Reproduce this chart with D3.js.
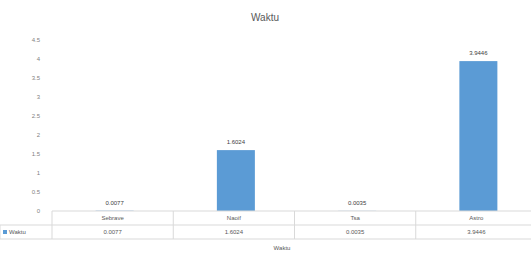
<!DOCTYPE html>
<html>
<head>
<meta charset="utf-8">
<script src="https://cdn.jsdelivr.net/npm/d3@7"></script>
<style>
  body { margin: 0; background: #fff; }
  svg { font-family: "Liberation Sans", Arial, sans-serif; }
</style>
</head>
<body>
<div id="chart"></div>
<script>
// chart data
const categories = ['Sebrave', 'Naoif', 'Tsa', 'Astro'];
const waktu = [0.0077, 1.6024, 0.0035, 3.9446];
const valueLabels = ['0.0077', '1.6024', '0.0035', '3.9446'];
const yTicks = [0, 0.5, 1, 1.5, 2, 2.5, 3, 3.5, 4, 4.5];
const seriesName = 'Waktu';

const W = 531, H = 253;
const margin = { top: 40, left: 52, right: -6, bottom: 42 };
const width = W - margin.left - margin.right;
const height = H - margin.top - margin.bottom;

const svg = d3.select('#chart')
  .append('svg')
  .attr('width', W)
  .attr('height', H);

// title
svg.append('text')
  .attr('x', 265)
  .attr('y', 21)
  .attr('text-anchor', 'middle')
  .style('font-size', '10px')
  .style('fill', '#595959')
  .text('Waktu');

const g = svg.append('g')
  .attr('transform', 'translate(' + margin.left + ',' + margin.top + ')');

const x = d3.scaleBand()
  .domain(categories)
  .range([0, width])
  .paddingInner(0)
  .paddingOuter(0);

const y = d3.scaleLinear().domain([0, 4.5]).range([height, 0]);

// Y axis labels
g.append('g')
  .call(d3.axisLeft(y).tickValues(yTicks).tickSize(0).tickPadding(12).tickFormat(d3.format('')))
  .call(a => a.select('.domain').remove())
  .selectAll('text')
  .style('font-size', '6px')
  .style('fill', '#7f7f7f');

// bars
const barW = 38;
g.selectAll('rect.bar')
  .data(waktu)
  .enter()
  .append('rect')
  .attr('class', 'bar')
  .attr('x', (d, i) => x(categories[i]) + x.bandwidth() / 2 - barW / 2 + 2)
  .attr('y', d => y(d))
  .attr('width', barW)
  .attr('height', d => y(0) - y(d))
  .style('fill', '#5b9bd5');

// data labels
g.selectAll('text.val')
  .data(waktu)
  .enter()
  .append('text')
  .attr('class', 'val')
  .attr('x', (d, i) => x(categories[i]) + x.bandwidth() / 2 + 2)
  .attr('y', d => y(d) - 6)
  .attr('text-anchor', 'middle')
  .style('font-size', '6px')
  .style('fill', '#404040')
  .text((d, i) => valueLabels[i]);

// data table under axis
const rowH = 14;
const tbl = g.append('g').attr('transform', 'translate(0,' + height + ')');
const lineCol = '#d9d9d9';
[0, rowH, rowH * 2].forEach(yy => {
  tbl.append('line')
    .attr('x1', yy === 0 ? 0 : -margin.left)
    .attr('x2', width)
    .attr('y1', yy).attr('y2', yy)
    .attr('stroke', lineCol)
    .attr('stroke-width', 1);
});
categories.forEach((c, i) => {
  tbl.append('line')
    .attr('x1', x(c)).attr('x2', x(c))
    .attr('y1', 0).attr('y2', rowH * 2)
    .attr('stroke', lineCol);
});
tbl.append('line')
  .attr('x1', -margin.left).attr('x2', -margin.left)
  .attr('y1', rowH).attr('y2', rowH * 2)
  .attr('stroke', lineCol);

tbl.selectAll('text.cat')
  .data(categories)
  .enter()
  .append('text')
  .attr('class', 'cat')
  .attr('x', d => x(d) + x.bandwidth() / 2)
  .attr('y', rowH / 2 + 2)
  .attr('text-anchor', 'middle')
  .style('font-size', '6px')
  .style('fill', '#595959')
  .text(d => d);

tbl.selectAll('text.row')
  .data(valueLabels)
  .enter()
  .append('text')
  .attr('class', 'row')
  .attr('x', (d, i) => x(categories[i]) + x.bandwidth() / 2)
  .attr('y', rowH * 1.5 + 2)
  .attr('text-anchor', 'middle')
  .style('font-size', '6px')
  .style('fill', '#595959')
  .text(d => d);

// legend key in the table
tbl.append('rect')
  .attr('x', -margin.left + 3)
  .attr('y', rowH * 1.5 - 2)
  .attr('width', 4).attr('height', 4)
  .style('fill', '#5b9bd5');
tbl.append('text')
  .attr('x', -margin.left + 9)
  .attr('y', rowH * 1.5 + 2)
  .style('font-size', '6px')
  .style('fill', '#595959')
  .text(seriesName);

// axis title at the bottom edge
svg.append('text')
  .attr('x', 282)
  .attr('y', 250)
  .attr('text-anchor', 'middle')
  .style('font-size', '6px')
  .style('fill', '#595959')
  .text('Waktu');
</script>
</body>
</html>
